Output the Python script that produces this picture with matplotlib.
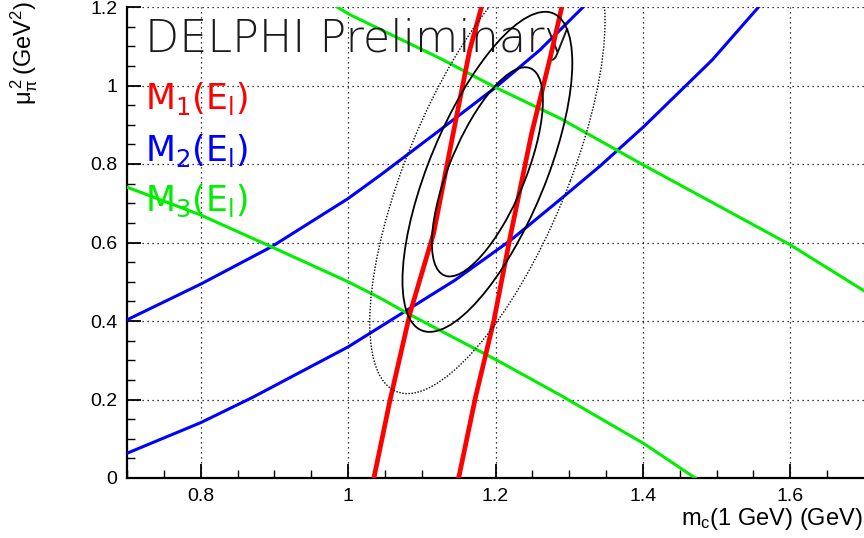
import numpy as np
import matplotlib
matplotlib.use("Agg")
import matplotlib.pyplot as plt
from matplotlib.patches import Ellipse

plt.rcParams['font.family'] = ['Liberation Sans', 'DejaVu Sans']
plt.rcParams['mathtext.default'] = 'regular'

# M1 (red) bands (mc, mu_pi^2)
red1_x = [1.035, 1.057, 1.084, 1.116, 1.147, 1.165, 1.181]
red1_y = [0.0, 0.199, 0.42, 0.623, 0.92, 1.09, 1.2]
red2_x = [1.150, 1.173, 1.198, 1.220, 1.249, 1.274, 1.290]
red2_y = [0.0, 0.207, 0.403, 0.615, 0.878, 1.069, 1.2]

# M2 (blue) bands
blue1_x = [0.70, 0.80, 0.896, 1.0, 1.044, 1.12, 1.20, 1.26, 1.319]
blue1_y = [0.403, 0.494, 0.589, 0.712, 0.772, 0.88, 0.995, 1.09, 1.2]
blue2_x = [0.70, 0.80, 0.871, 1.0, 1.145, 1.22, 1.288, 1.342, 1.401, 1.494, 1.557]
blue2_y = [0.063, 0.141, 0.206, 0.334, 0.504, 0.605, 0.71, 0.795, 0.895, 1.065, 1.2]

# M3 (green) bands
green1_x = [0.985, 1.003, 1.125, 1.20, 1.288, 1.401, 1.60, 1.70]
green1_y = [1.2, 1.18, 1.069, 0.995, 0.916, 0.797, 0.594, 0.477]
green2_x = [0.70, 0.80, 0.896, 1.0, 1.044, 1.08, 1.202, 1.288, 1.401, 1.471]
green2_y = [0.741, 0.670, 0.589, 0.500, 0.458, 0.42, 0.30, 0.211, 0.088, 0.0]

# fit result: centre, errors, correlation, contour scale factors
fit_center = (1.189, 0.78)
fit_sigma = (0.0753, 0.2665)
fit_rho = 0.68
contour_scales = [1.0, 1.53, 2.12]
contour_styles = ['-', '-', ':']

fig = plt.figure(figsize=(8.64, 5.38), dpi=100)
ax = fig.add_axes([127/864, 60/538, 737/864, 471/538])

ax.plot(blue1_x, blue1_y, color='#0000ff', lw=2.2, zorder=3)
ax.plot(blue2_x, blue2_y, color='#0000ff', lw=2.2, zorder=3)
ax.plot(green1_x, green1_y, color='#00ee00', lw=2.2, zorder=3)
ax.plot(green2_x, green2_y, color='#00ee00', lw=2.2, zorder=3)
ax.plot(red1_x, red1_y, color='#ff0000', lw=3.4, zorder=4)
ax.plot(red2_x, red2_y, color='#ff0000', lw=3.4, zorder=4)

# error ellipses from covariance
sx, sy = fit_sigma
cov = np.array([[sx*sx, fit_rho*sx*sy], [fit_rho*sx*sy, sy*sy]])
vals, vecs = np.linalg.eigh(cov)
angle = np.degrees(np.arctan2(vecs[1, 1], vecs[0, 1]))
for s, ls in zip(contour_scales, contour_styles):
    e = Ellipse(fit_center, 2*s*np.sqrt(vals[1]), 2*s*np.sqrt(vals[0]), angle=angle,
                fill=False, edgecolor='black', lw=1.3 if ls == '-' else 1.0,
                linestyle=ls if ls == '-' else (0, (1, 1.2)), zorder=5)
    ax.add_patch(e)

ax.set_xlim(0.7, 1.7)
ax.set_ylim(0, 1.2)
ax.set_xticks([0.8, 1.0, 1.2, 1.4, 1.6])
ax.set_xticklabels(['0.8', '1', '1.2', '1.4', '1.6'])
ax.set_yticks([0, 0.2, 0.4, 0.6, 0.8, 1.0, 1.2])
ax.set_yticklabels(['0', '0.2', '0.4', '0.6', '0.8', '1', '1.2'])
ax.set_xticks(np.arange(0.7, 1.7, 0.05), minor=True)
ax.set_yticks(np.arange(0.0, 1.2, 0.05), minor=True)
ax.tick_params(which='major', direction='in', length=10, width=1.3, labelsize=14, pad=7)
ax.tick_params(which='minor', direction='in', length=6, width=1.0)
ax.grid(True, which='major', color='black', linestyle=(0, (1, 3)), lw=0.9)
for sp in ['top', 'right']:
    ax.spines[sp].set_visible(False)
for sp in ['left', 'bottom']:
    ax.spines[sp].set_linewidth(1.6)

ax.text(0.025, 0.93, 'DELPHI Preliminary', transform=ax.transAxes, fontsize=32,
        family=['DejaVu Sans'], fontweight='light', color='#1a1a1a',
        ha='left', va='center')
leg_y = [0.805, 0.695, 0.588]
leg_c = ['#ff0000', '#0000ff', '#00ee00']
for i, (yy, cc) in enumerate(zip(leg_y, leg_c)):
    ax.text(0.025, yy, 'M$_%d$(E$_l$)' % (i + 1), transform=ax.transAxes,
            fontsize=25, family=['DejaVu Sans'], color=cc, ha='left', va='center')

fig.text(0.998, 0.035, 'm$_c$(1 GeV) (GeV)', fontsize=17, ha='right', va='center')
fig.text(0.028, 0.998, r'$\mu_\pi^{\,2}\,$(GeV$^2$)', fontsize=17, rotation=90,
         ha='center', va='top')

fig.savefig('out.png', dpi=100)
